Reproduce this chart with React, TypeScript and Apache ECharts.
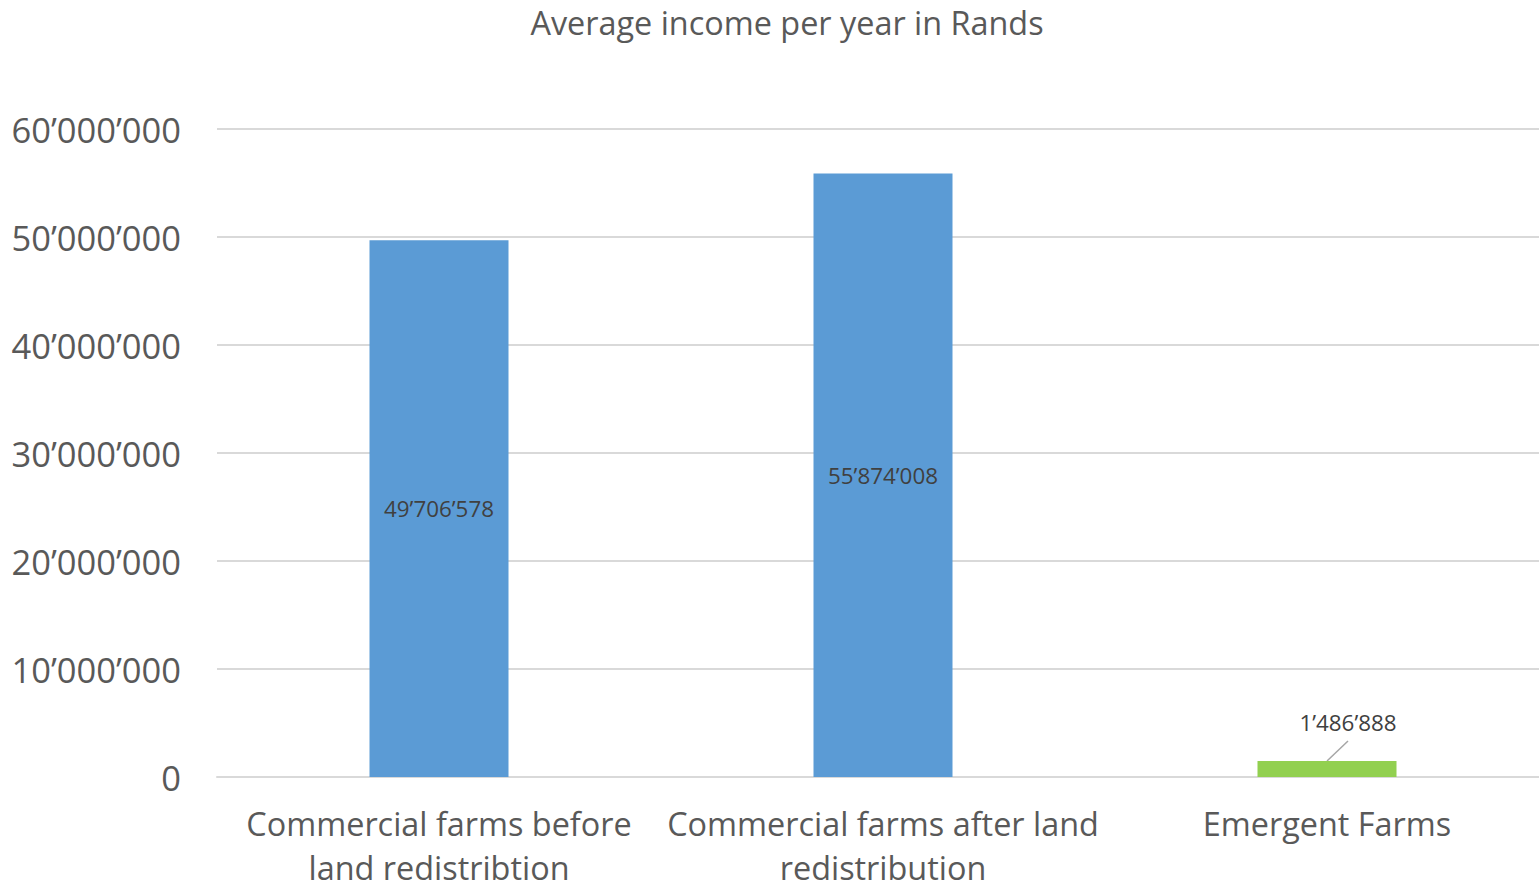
import React, { useEffect, useRef } from "react";
import * as echarts from "echarts";

const titleText = "Average income per year in Rands";
const categories = [
  "Commercial farms before\nland redistribtion",
  "Commercial farms after land\nredistribution",
  "Emergent Farms",
];
const values = [49706578, 55874008, 1486888];
const barColors = ["#5B9BD5", "#5B9BD5", "#92D050"];
const yMin = 0;
const yMax = 60000000;
const yInterval = 10000000;

const fmt = (v: number) =>
  String(Math.round(v)).replace(/\B(?=(\d{3})+(?!\d))/g, "\u2019");

export default function App() {
  const ref = useRef<HTMLDivElement>(null);
  useEffect(() => {
    document.body.style.margin = "0";
    const chart = echarts.init(ref.current!, undefined, { renderer: "svg" });
    const font = "'Open Sans', sans-serif";
    const labelDx = 21;
    const labelDy = -22;
    const titleGraphic = {
      type: "text",
      x: 787,
      y: 22,
      style: {
        text: titleText,
        font: `32.4px ${font}`,
        fill: "#595959",
        textAlign: "center",
        textVerticalAlign: "middle",
      },
    };
    chart.setOption({
      animation: false,
      backgroundColor: "#ffffff",
      graphic: [titleGraphic],
      grid: {
        left: 217,
        width: 1332,
        top: 129,
        bottom: 110,
        containLabel: false,
        outerBoundsMode: "none",
      },
      xAxis: {
        type: "category",
        data: categories,
        axisLine: { lineStyle: { color: "#D9D9D9", width: 2 } },
        axisTick: { show: false },
        axisLabel: {
          color: "#595959",
          fontFamily: font,
          fontSize: 32.4,
          lineHeight: 44,
          margin: 24,
          interval: 0,
        },
      },
      yAxis: {
        type: "value",
        min: yMin,
        max: yMax,
        interval: yInterval,
        axisLine: { show: false },
        axisTick: { show: false },
        splitLine: { lineStyle: { color: "#D9D9D9", width: 2 } },
        axisLabel: {
          color: "#595959",
          fontFamily: font,
          fontSize: 34.5,
          margin: 36,
          formatter: (v: number) => fmt(v),
        },
      },
      series: [
        {
          type: "bar",
          barWidth: 139,
          data: values.map((v, i) => ({
            value: v,
            itemStyle: { color: barColors[i] },
            label:
              i === 2
                ? { position: "top", distance: 5 }
                : { position: "inside" },
          })),
          label: {
            show: true,
            color: "#404040",
            fontFamily: font,
            fontSize: 22.4,
            formatter: (p: any) => fmt(p.value),
          },
          labelLayout: (p: any) =>
            p.dataIndex === 2 ? { dx: labelDx, dy: labelDy } : {},
        },
      ],
    });
    // leader line from the top of the third bar to its moved label
    const top = chart.convertToPixel({ gridIndex: 0 }, [2, values[2]]) as number[];
    chart.setOption({
      graphic: [
        titleGraphic,
        {
          type: "line",
          shape: { x1: top[0], y1: top[1], x2: top[0] + labelDx, y2: top[1] - 20 },
          style: { stroke: "#A6A6A6", lineWidth: 1.5 },
        },
      ],
    });
    return () => chart.dispose();
  }, []);
  return <div ref={ref} style={{ width: 1539, height: 887 }} />;
}
